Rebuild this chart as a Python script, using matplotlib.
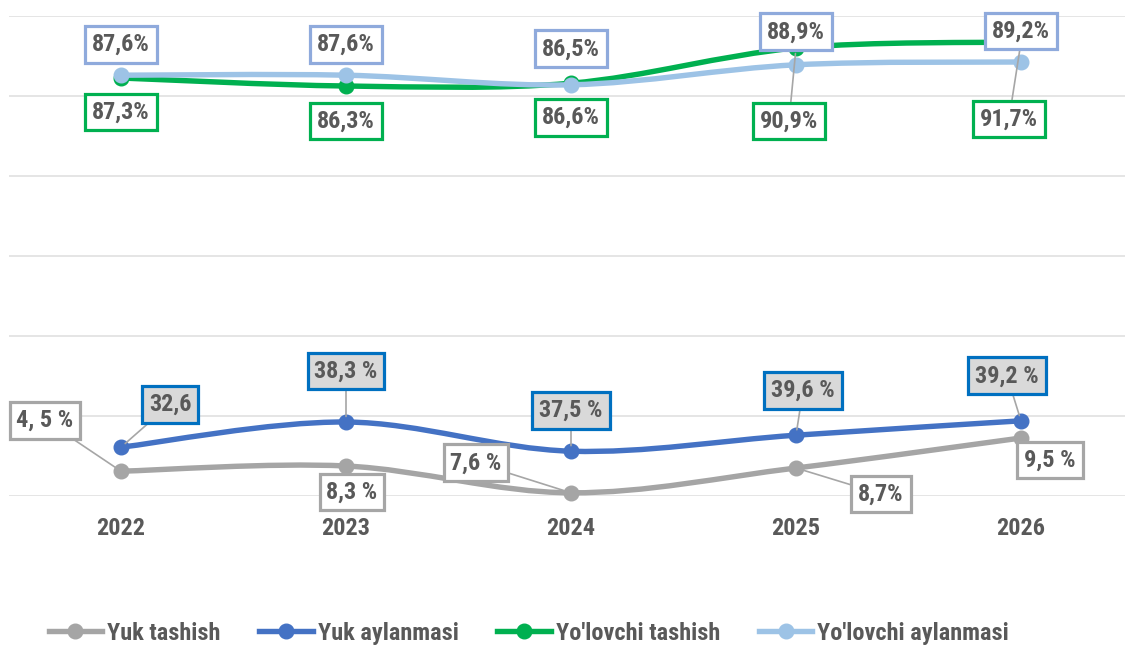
import numpy as np
import matplotlib
matplotlib.use("Agg")
import matplotlib.pyplot as plt
from matplotlib import font_manager
from matplotlib.path import Path
from matplotlib.patches import PathPatch

# pick a condensed bold font if one is there
names = {f.name for f in font_manager.fontManager.ttflist}
FONT = "DejaVu Sans"
for cand in ["Roboto Condensed", "Liberation Sans Narrow", "Roboto"]:
    if cand in names:
        FONT = cand
        break
plt.rcParams["font.family"] = [FONT, "DejaVu Sans"]
plt.rcParams["font.weight"] = "bold"

# ---------------- data ----------------
years = ["2022", "2023", "2024", "2025", "2026"]
series_names = ["Yuk tashish", "Yuk aylanmasi", "Yo'lovchi tashish", "Yo'lovchi aylanmasi"]

# plotted heights (chart units)
yuk_tashish = [3.1, 3.75, 0.4, 3.5, 7.25]
yuk_aylanmasi = [6.1, 9.25, 5.6, 7.6, 9.4]
yolovchi_tashish = [52.25, 51.25, 51.6, 56.0, 56.75]
yolovchi_aylanmasi = [52.6, 52.6, 51.4, 53.9, 54.25]

# data label texts as printed on the chart
yuk_tashish_labels = ["4, 5 %", "8,3 %", "7,6 %", "8,7%", "9,5 %"]
yuk_aylanmasi_labels = ["32,6", "38,3 %", "37,5 %", "39,6 %", "39,2 %"]
yolovchi_tashish_labels = ["87,3%", "86,3%", "86,6%", "90,9%", "91,7%"]
yolovchi_aylanmasi_labels = ["87,6%", "87,6%", "86,5%", "88,9%", "89,2%"]

# ---------------- styles ----------------
TEXT = "#595959"
FS = 17.5
line_colors = ["#A5A5A5", "#4472C4", "#00B050", "#9DC3E6"]
box_edges = ["#A6A6A6", "#0070C0", "#00B050", "#8FAADC"]
box_faces = ["white", "#D9D9D9", "white", "white"]
# label offsets from the point in pixels (dx right, dy down) and leader flags
offsets = [
    [(-76, -51), (6, 26), (-95, -30), (85, 26), (29, 22)],
    [(49, -43), (0, -51), (0, -41), (7, -45), (-14, -45)],
    [(0, 34), (0, 35), (0, 34), (-7, 73), (-12, 77)],
    [(0, -31), (0, -31), (0, -36), (0, -33), (0, -31)],
]
leaders = [
    [True, False, True, True, False],
    [True, True, True, True, True],
    [False, False, False, True, True],
    [False, False, False, False, False],
]

W, H = 1125, 645
fig = plt.figure(figsize=(W / 100, H / 100), dpi=100)
ax = fig.add_axes([8.5 / W, (H - 496) / H, 1125 / W, 480 / H])
ax.set_xlim(-0.5, 4.5)
ax.set_ylim(0, 60)
for s in ax.spines.values():
    s.set_visible(False)
ax.set_yticks(np.arange(0, 61, 10))
ax.set_yticklabels([])
ax.tick_params(length=0)
ax.grid(axis="y", color="#E3E3E3", lw=1.3)
ax.set_axisbelow(True)
ax.set_xticks(range(len(years)))
ax.set_xticklabels(years, fontsize=FS, color=TEXT, fontweight="bold")
ax.tick_params(axis="x", pad=15)


def smooth_path(xs, ys):
    # cubic bezier through the points (Excel-style smoothing)
    pts = np.column_stack([xs, ys])
    ext = np.vstack([pts[0], pts, pts[-1]])
    verts = [pts[0]]
    codes = [Path.MOVETO]
    for i in range(len(pts) - 1):
        p0, p1, p2, p3 = ext[i], ext[i + 1], ext[i + 2], ext[i + 3]
        verts += [p1 + (p2 - p0) / 6, p2 - (p3 - p1) / 6, p2]
        codes += [Path.CURVE4] * 3
    return Path(verts, codes)


all_values = [yuk_tashish, yuk_aylanmasi, yolovchi_tashish, yolovchi_aylanmasi]
all_labels = [yuk_tashish_labels, yuk_aylanmasi_labels, yolovchi_tashish_labels, yolovchi_aylanmasi_labels]
x = np.arange(len(years))

handles = []
for k, vals in enumerate(all_values):
    patch = PathPatch(smooth_path(x, vals), facecolor="none", edgecolor=line_colors[k],
                      lw=3.9, capstyle="round", zorder=3 + k, clip_on=False)
    ax.add_patch(patch)
    ax.plot(x, vals, "o", color=line_colors[k], ms=10.5, zorder=3 + k, clip_on=False)
    h, = ax.plot([], [], "-o", color=line_colors[k], lw=3.9, ms=10.5, label=series_names[k])
    handles.append(h)

for k, vals in enumerate(all_values):
    for i, v in enumerate(vals):
        dx, dy = offsets[k][i]
        arrow = None
        if leaders[k][i]:
            arrow = dict(arrowstyle="-", color="#A6A6A6", lw=1.2, shrinkA=0, shrinkB=4)
        ax.annotate(all_labels[k][i], xy=(i, v), xytext=(dx * 0.72, -dy * 0.72),
                    textcoords="offset points", ha="center", va="center",
                    fontsize=FS, color=TEXT, fontweight="bold", zorder=10,
                    annotation_clip=False, arrowprops=arrow,
                    bbox=dict(boxstyle="square,pad=0.28", fc=box_faces[k],
                              ec=box_edges[k], lw=2.3))

fig.legend(handles=handles, loc="center", bbox_to_anchor=(0.47, 0.018), ncol=4,
           frameon=False, fontsize=FS, handlelength=2.2, handletextpad=0.2,
           columnspacing=1.6, labelcolor=TEXT)

fig.savefig("out.png", dpi=100)
